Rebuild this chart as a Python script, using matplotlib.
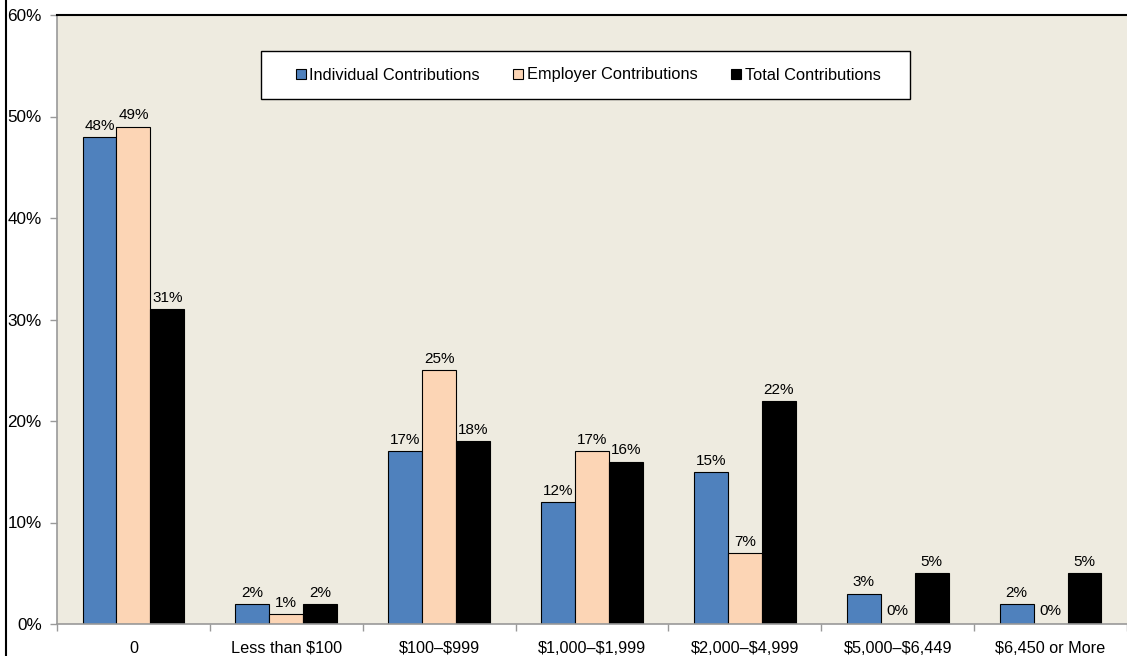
import matplotlib
matplotlib.use("Agg")
import matplotlib.pyplot as plt
import numpy as np
from matplotlib.patches import Patch, Rectangle
from matplotlib.lines import Line2D

plt.rcParams['font.family'] = ['Liberation Sans', 'DejaVu Sans']
plt.rcParams['text.parse_math'] = False

categories = ["0", "Less than $100", "$100\u2013$999", "$1,000\u2013$1,999",
              "$2,000\u2013$4,999", "$5,000\u2013$6,449", "$6,450 or More"]
individual = [48, 2, 17, 12, 15, 3, 2]
employer = [49, 1, 25, 17, 7, 0, 0]
total = [31, 2, 18, 16, 22, 5, 5]
series_names = ["Individual Contributions", "Employer Contributions", "Total Contributions"]
colors = ["#4F81BD", "#FCD5B5", "#000000"]
yticks = [0, 10, 20, 30, 40, 50, 60]

W, H = 1127, 656
fig = plt.figure(figsize=(W/100, H/100), dpi=100)
ax = fig.add_axes([57/W, 32/H, 1 - 57/W, (624-15)/H])
ax.set_facecolor("#EEEBE0")

x = np.arange(len(categories))
w = 0.222
for i, (vals, c) in enumerate(zip([individual, employer, total], colors)):
    pos = x + (i - 1) * w
    ax.bar(pos, vals, width=w, color=c, edgecolor="black", linewidth=0.8, label=series_names[i])
    for p, v in zip(pos, vals):
        ax.annotate(f"{v}%", (p, v), xytext=(0, 4 if v == 0 else 3), textcoords="offset points",
                    ha="center", va="bottom", fontsize=11)

ax.set_xlim(-0.5, len(categories) - 0.5)
ax.set_ylim(0, 60)
ax.set_yticks(yticks)
ax.set_yticklabels([f"{t}%" for t in yticks], fontsize=12.3)
ax.set_xticks(x)
ax.set_xticklabels(categories, fontsize=11.7)
ax.set_xticks(np.arange(len(categories) + 1) - 0.5, minor=True)
ax.tick_params(axis="x", which="major", length=0, pad=12)
ax.tick_params(axis="x", which="minor", length=5, color="#999999", width=1, direction="out")
ax.tick_params(axis="y", length=5, color="#999999", width=1, direction="out", pad=6)

for s in ["left", "bottom"]:
    ax.spines[s].set_color("#999999")
    ax.spines[s].set_linewidth(1.2)
ax.spines["top"].set_color("black")
ax.spines["top"].set_linewidth(1.5)
ax.spines["right"].set_visible(False)

# legend frame
fig.add_artist(Rectangle((261/W, 1 - 99.3/H), (910-261)/W, (99.3-50.7)/H,
                         transform=fig.transFigure, facecolor="white", edgecolor="black",
                         linewidth=1.0, zorder=5))
handles = [Patch(facecolor=c, edgecolor="black", linewidth=0.8) for c in colors]
leg = fig.legend(handles, series_names, loc="center", bbox_to_anchor=(588/W, 1 - 75/H),
                 ncol=3, fontsize=11.8, frameon=False,
                 handlelength=0.62, handleheight=0.55, handletextpad=0.2, columnspacing=2.05,
                 borderpad=0, borderaxespad=0)
leg.set_zorder(6)

fig.add_artist(Line2D([6/W, 6/W], [0, 1], transform=fig.transFigure, color="black", linewidth=1.5))

fig.savefig("out.png", dpi=100)
